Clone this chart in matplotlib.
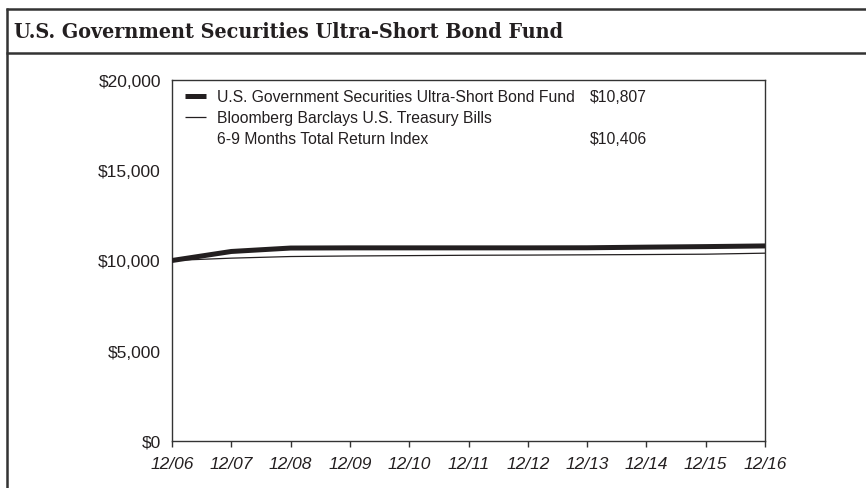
import matplotlib
matplotlib.use("Agg")
import matplotlib.pyplot as plt
from matplotlib.lines import Line2D

# Growth of a $10,000 investment, year-end values
periods = ["12/06", "12/07", "12/08", "12/09", "12/10", "12/11",
           "12/12", "12/13", "12/14", "12/15", "12/16"]
fund_values = [10000, 10500, 10690, 10700, 10700, 10700,
               10700, 10705, 10740, 10770, 10807]
index_values = [10000, 10130, 10220, 10250, 10270, 10290,
                10300, 10315, 10330, 10350, 10406]
fund_name = "U.S. Government Securities Ultra-Short Bond Fund"
index_name_lines = ["Bloomberg Barclays U.S. Treasury Bills",
                    "6-9 Months Total Return Index"]
fund_end_label = "$10,807"
index_end_label = "$10,406"
title = "U.S. Government Securities Ultra-Short Bond Fund"
y_ticks = [0, 5000, 10000, 15000, 20000]

SANS = ["Liberation Sans", "DejaVu Sans"]
INK = "#231f20"

W, H = 866, 489
fig = plt.figure(figsize=(W / 100, H / 100), dpi=100)
fig.patch.set_facecolor("white")

def fx(px):
    return px / W

def fy(py):
    return 1 - py / H

# Outer frame and title band
frame_kw = dict(color="#333333", lw=1.8, transform=fig.transFigure, solid_capstyle="butt")
fig.add_artist(Line2D([fx(6), 1], [fy(10), fy(10)], **frame_kw))
fig.add_artist(Line2D([fx(6), 1], [fy(53.5), fy(53.5)], **frame_kw))
fig.add_artist(Line2D([fx(7), fx(7)], [fy(9), 0], **frame_kw))
fig.text(fx(14), fy(32), title, family="DejaVu Serif", fontstretch="condensed",
         fontweight="bold", fontsize=15.4, color=INK, va="center", ha="left")

ax = fig.add_axes([fx(172), fy(442), fx(765) - fx(172), fy(81) - fy(442)])
x = list(range(len(periods)))
ax.plot(x, index_values, color=INK, lw=0.9, zorder=3)
ax.plot(x, fund_values, color=INK, lw=3.6, solid_capstyle="round", zorder=4)

ax.set_xlim(0, len(periods) - 1)
ax.set_ylim(0, 20000)
ax.set_yticks(y_ticks)
ax.set_yticklabels([f"${v:,.0f}" for v in y_ticks], family=SANS, fontsize=12.5, color=INK)
ax.set_xticks(x)
ax.set_xticklabels(periods, family=SANS, fontsize=12.5, style="italic", color=INK)
ax.tick_params(axis="y", length=0, pad=8)
ax.tick_params(axis="x", length=4.5, width=1, direction="out", pad=6, color="#333333")
for s in ax.spines.values():
    s.set_color("#333333")
    s.set_linewidth(1.0)

# Legend drawn in figure pixels
def legend_line(y_px, lw):
    fig.add_artist(Line2D([fx(185), fx(206)], [fy(y_px), fy(y_px)], color=INK, lw=lw,
                          transform=fig.transFigure, solid_capstyle="butt"))

leg_kw = dict(family=SANS, fontsize=11.3, color=INK, va="center")
legend_line(97, 3.6)
fig.text(fx(217), fy(97), fund_name, ha="left", **leg_kw)
fig.text(fx(647), fy(97), fund_end_label, ha="right", **leg_kw)
legend_line(118, 0.9)
fig.text(fx(217), fy(118), index_name_lines[0], ha="left", **leg_kw)
fig.text(fx(217), fy(139), index_name_lines[1], ha="left", **leg_kw)
fig.text(fx(647), fy(139), index_end_label, ha="right", **leg_kw)

fig.savefig("out.png", dpi=100, facecolor="white")
